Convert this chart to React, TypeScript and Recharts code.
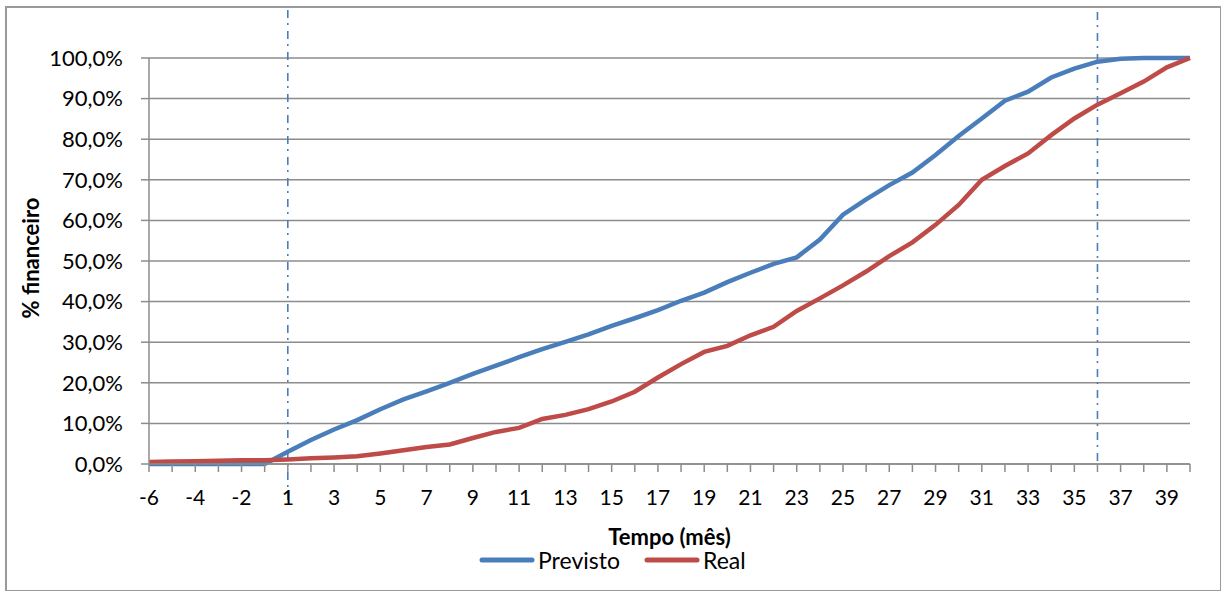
import React from 'react';
import { LineChart, Line, XAxis, YAxis, CartesianGrid, ReferenceLine, Legend } from 'recharts';

const categories = [
  '-6', '-5', '-4', '-3', '-2', '-1',
  '1', '2', '3', '4', '5', '6', '7', '8', '9', '10',
  '11', '12', '13', '14', '15', '16', '17', '18', '19', '20',
  '21', '22', '23', '24', '25', '26', '27', '28', '29', '30',
  '31', '32', '33', '34', '35', '36', '37', '38', '39', '40',
];

const previsto = [
  0, 0, 0, 0, 0, 0,
  3.0, 5.9, 8.5, 10.8, 13.5, 15.9, 17.9, 20.0, 22.2, 24.2,
  26.3, 28.3, 30.1, 31.9, 34.0, 35.9, 37.9, 40.2, 42.2, 44.8,
  47.1, 49.3, 50.9, 55.3, 61.4, 65.2, 68.7, 71.8, 76.1, 80.8,
  85.1, 89.5, 91.7, 95.2, 97.4, 99.1, 99.8, 100, 100, 100,
];

const real = [
  0.5, 0.6, 0.7, 0.8, 0.9, 0.9,
  1.1, 1.4, 1.6, 1.9, 2.6, 3.4, 4.2, 4.8, 6.4, 7.9,
  8.9, 11.1, 12.1, 13.5, 15.4, 17.8, 21.3, 24.6, 27.6, 29.1,
  31.7, 33.8, 37.7, 40.8, 44.0, 47.4, 51.2, 54.6, 58.9, 63.8,
  70.0, 73.4, 76.5, 81.0, 85.1, 88.5, 91.3, 94.2, 97.7, 100,
];

const yTicks = [0, 10, 20, 30, 40, 50, 60, 70, 80, 90, 100];
const seriesNames = ['Previsto', 'Real'];
const markerMonths = ['1', '36'];
const xTitle = 'Tempo (mês)';
const yTitle = '% financeiro';

const data = categories.map((c, i) => ({ mes: c, previsto: previsto[i], real: real[i] }));

const FONT = 'Lato, "Open Sans", sans-serif';
const BLUE = '#4a7ebb';
const RED = '#be4b48';
const GRID = '#8c8c8c';

// visual extents of the dashed marker lines (above / below the plot area)
const markerExtents: Record<string, [number, number]> = {
  '1': [48, 36],
  '36': [46, -2],
};

const XTick = (props: any) => {
  const { x, y, index, payload } = props;
  return (
    <g>
      <line x1={x} y1={y} x2={x} y2={y + 8} stroke={GRID} strokeWidth={1.5} />
      {index % 2 === 0 && (
        <text x={x} y={y + 41} textAnchor="middle" fontFamily={FONT} fontSize={21} fill="#000">
          {payload.value}
        </text>
      )}
    </g>
  );
};

const makeMarkerShape = (key: string) => (props: any) => {
  const [up, down] = markerExtents[key] || [0, 0];
  const top = Math.min(props.y1, props.y2);
  const bottom = Math.max(props.y1, props.y2);
  return (
    <line
      x1={props.x1}
      x2={props.x2}
      y1={top - up}
      y2={bottom + down}
      stroke={BLUE}
      strokeWidth={1.6}
      strokeDasharray="8 5 2 6"
    />
  );
};

const legendItems = [
  { name: seriesNames[0], color: BLUE },
  { name: seriesNames[1], color: RED },
];

const renderLegend = () => (
  <div style={{ display: 'flex', alignItems: 'center', fontFamily: FONT, fontSize: 23, lineHeight: '22px', color: '#000' }}>
    {legendItems.map((it, i) => (
      <div key={it.name} style={{ display: 'flex', alignItems: 'center', marginLeft: i === 0 ? 0 : 24 }}>
        <svg width={56} height={8} style={{ display: 'block' }}>
          <line x1={3} y1={4} x2={53} y2={4} stroke={it.color} strokeWidth={5} strokeLinecap="round" />
        </svg>
        <span style={{ marginLeft: 3 }}>{it.name}</span>
      </div>
    ))}
  </div>
);

export default function App() {
  return (
    <div style={{ position: 'absolute', left: 0, top: 0, width: 1221, height: 591, background: '#fff' }}>
      <div
        style={{
          position: 'absolute',
          left: 5,
          top: 6,
          width: 1213,
          height: 582,
          border: '2px solid #9a9a9a',
          pointerEvents: 'none',
        }}
      />
      <LineChart
        width={1221}
        height={591}
        data={data}
        margin={{ top: 58, right: 31, bottom: 37, left: 0 }}
      >
        <CartesianGrid vertical={false} stroke={GRID} strokeWidth={1.5} />
        <XAxis
          dataKey="mes"
          type="category"
          interval={0}
          height={90}
          tickLine={false}
          tickSize={0}
          tickMargin={0}
          axisLine={{ stroke: GRID, strokeWidth: 1.5 }}
          tick={<XTick />}
          label={{
            value: xTitle,
            content: (p: any) => {
              const vb = p.viewBox || { x: 149, y: 464, width: 1041 };
              return (
                <text x={vb.x + vb.width / 2} y={vb.y + 81} textAnchor="middle" fontFamily={FONT} fontWeight="bold" fontSize={22} fill="#000">
                  {xTitle}
                </text>
              );
            },
          }}
        />
        <YAxis
          type="number"
          domain={[0, 100]}
          ticks={yTicks}
          interval={0}
          width={149}
          tickSize={8}
          tickMargin={18}
          tickLine={{ stroke: GRID, strokeWidth: 1.5 }}
          axisLine={{ stroke: GRID, strokeWidth: 1.5 }}
          tick={{ fontFamily: FONT, fontSize: 22, fill: '#000' }}
          tickFormatter={(v: number) => `${v},0%`}
          label={{
            value: yTitle,
            content: () => (
              <text
                x={30}
                y={258}
                transform="rotate(-90 30 258)"
                textAnchor="middle"
                dominantBaseline="central"
                fontFamily={FONT}
                fontWeight="bold"
                fontSize={22}
                fill="#000"
              >
                {yTitle}
              </text>
            ),
          }}
        />
        {markerMonths.map((m) => (
          <ReferenceLine key={m} x={m} stroke={BLUE} shape={makeMarkerShape(m)} ifOverflow="visible" />
        ))}
        <Line
          type="linear"
          dataKey="previsto"
          name={seriesNames[0]}
          stroke={BLUE}
          strokeWidth={4.5}
          dot={false}
          activeDot={false}
          isAnimationActive={false}
        />
        <Line
          type="linear"
          dataKey="real"
          name={seriesNames[1]}
          stroke={RED}
          strokeWidth={4.5}
          dot={false}
          activeDot={false}
          isAnimationActive={false}
        />
        <Legend
          layout="horizontal"
          verticalAlign="middle"
          align="center"
          content={renderLegend}
          wrapperStyle={{ position: 'absolute', left: 479, top: 549, width: 320, height: 22 }}
        />
      </LineChart>
    </div>
  );
}
